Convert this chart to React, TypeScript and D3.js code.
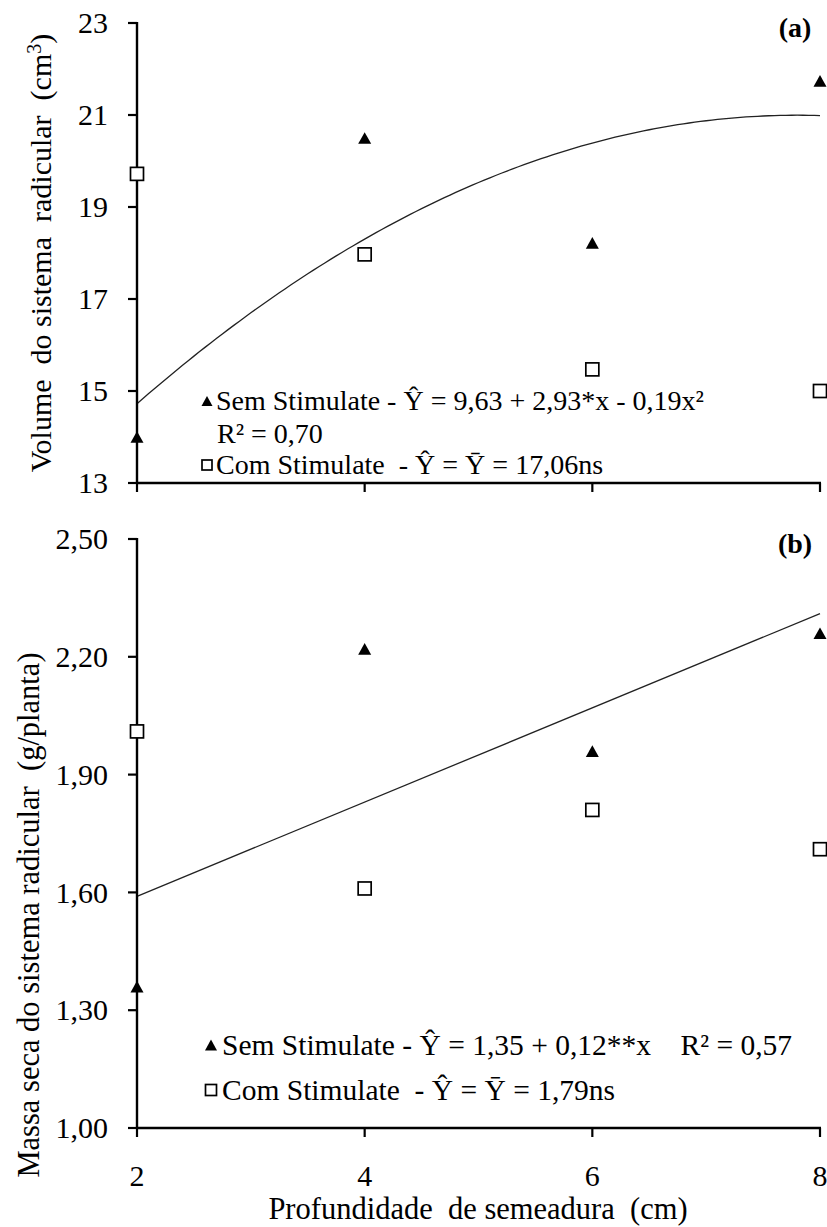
import React from "react";
import * as d3 from "d3";

// Sowing depth (cm)
const depths = [2, 4, 6, 8];
const xTicks = [2, 4, 6, 8];

// Panel (a): root system volume (cm3)
const volSem = [14.0, 20.5, 18.22, 21.74];
const volCom = [19.72, 17.97, 15.47, 15.0];
const volTicks = [13, 15, 17, 19, 21, 23];
// fitted quadratic for "Sem Stimulate" (a + b x + c x^2)
const volFit = [9.655, 2.907, -0.1863];

// Panel (b): root dry mass (g/plant)
const massSem = [1.36, 2.22, 1.96, 2.26];
const massCom = [2.01, 1.61, 1.81, 1.71];
const massTicks = [1.0, 1.3, 1.6, 1.9, 2.2, 2.5];
// fitted line for "Sem Stimulate" (a + b x)
const massFit = [1.35, 0.12];

const FONT = "'Liberation Serif', 'Times New Roman', serif";

const W = 827;
const H = 1227;
const left = 137;
const right = 820;

const x = d3.scaleLinear().domain([2, 8]).range([left, right]);
const yA = d3.scaleLinear().domain([13, 23]).range([483, 23]);
const yB = d3.scaleLinear().domain([1, 2.5]).range([1128, 539]);

const fmtComma = (d: number) => d.toFixed(2).replace(".", ",");

function Tri({ cx, cy, s = 13 }: { cx: number; cy: number; s?: number }) {
  const h = s * 0.9;
  return (
    <path
      d={`M${cx},${cy - h / 2}L${cx + s / 2},${cy + h / 2}L${cx - s / 2},${cy + h / 2}Z`}
      fill="#000"
    />
  );
}

function Sq({ cx, cy, s = 13 }: { cx: number; cy: number; s?: number }) {
  return (
    <rect
      x={cx - s / 2}
      y={cy - s / 2}
      width={s}
      height={s}
      fill="#fff"
      stroke="#000"
      strokeWidth={1.7}
    />
  );
}

function Axes({
  y,
  ticks,
  fmt,
  showXLabels,
}: {
  y: d3.ScaleLinear<number, number>;
  ticks: number[];
  fmt: (d: number) => string;
  showXLabels: boolean;
}) {
  const [y0, y1] = y.range();
  return (
    <g>
      <line x1={left} x2={left} y1={y1 - 1} y2={y0 + 1} stroke="#000" strokeWidth={2.4} />
      <line x1={left - 1} x2={right + 1} y1={y0} y2={y0} stroke="#000" strokeWidth={2.4} />
      {ticks.map((t) => (
        <g key={"y" + t}>
          <line x1={left - 9} x2={left} y1={y(t)} y2={y(t)} stroke="#000" strokeWidth={2.2} />
          <text
            x={108}
            y={y(t)}
            dy="0.34em"
            textAnchor="end"
            fontFamily={FONT}
            fontSize={30}
            fill="#000"
          >
            {fmt(t)}
          </text>
        </g>
      ))}
      {xTicks.map((t) => (
        <g key={"x" + t}>
          <line x1={x(t)} x2={x(t)} y1={y0} y2={y0 + 9} stroke="#000" strokeWidth={2.2} />
          {showXLabels && (
            <text
              x={x(t)}
              y={y0 + 58}
              textAnchor="middle"
              fontFamily={FONT}
              fontSize={30}
              fill="#000"
            >
              {t}
            </text>
          )}
        </g>
      ))}
    </g>
  );
}

export default function App() {
  const samples = d3.range(2, 8.0001, 0.05);
  const curveA = d3
    .line<number>()
    .x((d) => x(d))
    .y((d) => yA(volFit[0] + volFit[1] * d + volFit[2] * d * d))(samples);
  const lineB = d3
    .line<number>()
    .x((d) => x(d))
    .y((d) => yB(massFit[0] + massFit[1] * d))([2, 8]);

  const txt = { fontFamily: FONT, fontSize: 29.5, fill: "#000" } as const;
  const txtA = { fontFamily: FONT, fontSize: 28, fill: "#000" } as const;

  return (
    <svg
      width={W}
      height={H}
      style={{ position: "absolute", left: 0, top: 0, background: "#fff" }}
    >
      <rect width={W} height={H} fill="#fff" />

      {/* Panel (a) */}
      <path d={curveA ?? ""} fill="none" stroke="#222" strokeWidth={1.3} />
      <Axes y={yA} ticks={volTicks} fmt={(d) => String(d)} showXLabels={false} />
      {depths.map((d, i) => (
        <Sq key={"ca" + i} cx={x(d)} cy={yA(volCom[i])} />
      ))}
      {depths.map((d, i) => (
        <Tri key={"sa" + i} cx={x(d)} cy={yA(volSem[i])} />
      ))}
      <text x={795} y={37} textAnchor="middle" fontFamily={FONT} fontSize={28} fontWeight="bold">
        (a)
      </text>
      <Tri cx={207} cy={401} s={11} />
      <text x={216} y={410} {...txtA}>
        Sem Stimulate - Ŷ = 9,63 + 2,93*x - 0,19x²
      </text>
      <text x={217} y={443} {...txtA}>
        R² = 0,70
      </text>
      <Sq cx={207} cy={465} s={10} />
      <text x={216} y={474} {...txtA} style={{ whiteSpace: "pre" }}>
        {"Com Stimulate  - Ŷ = Ȳ = 17,06ns"}
      </text>
      <text
        transform={`translate(51,${(23 + 483) / 2}) rotate(-90)`}
        textAnchor="middle"
        {...txt}
        fontSize={30}
        style={{ whiteSpace: "pre" }}
      >
        {"Volume  do sistema  radicular  (cm"}
        <tspan dy={-10} fontSize={20}>3</tspan>
        <tspan dy={10}>)</tspan>
      </text>

      {/* Panel (b) */}
      <path d={lineB ?? ""} fill="none" stroke="#222" strokeWidth={1.3} />
      <Axes y={yB} ticks={massTicks} fmt={fmtComma} showXLabels={true} />
      {depths.map((d, i) => (
        <Sq key={"cb" + i} cx={x(d)} cy={yB(massCom[i])} />
      ))}
      {depths.map((d, i) => (
        <Tri key={"sb" + i} cx={x(d)} cy={yB(massSem[i])} />
      ))}
      <text x={795} y={553} textAnchor="middle" fontFamily={FONT} fontSize={28} fontWeight="bold">
        (b)
      </text>
      <Tri cx={211} cy={1045} s={12} />
      <text x={222} y={1055} {...txt} style={{ whiteSpace: "pre" }}>
        {"Sem Stimulate - Ŷ = 1,35 + 0,12**x    R² = 0,57"}
      </text>
      <Sq cx={211} cy={1090} s={11} />
      <text x={222} y={1100} {...txt} style={{ whiteSpace: "pre" }}>
        {"Com Stimulate  - Ŷ = Ȳ = 1,79ns"}
      </text>
      <text
        transform={`translate(39,915) rotate(-90)`}
        textAnchor="middle"
        {...txt}
        fontSize={30.5}
        style={{ whiteSpace: "pre" }}
      >
        {"Massa seca do sistema radicular  (g/planta)"}
      </text>

      <text x={478} y={1219} textAnchor="middle" {...txt} fontSize={30.5} style={{ whiteSpace: "pre" }}>
        {"Profundidade  de semeadura  (cm)"}
      </text>
    </svg>
  );
}
